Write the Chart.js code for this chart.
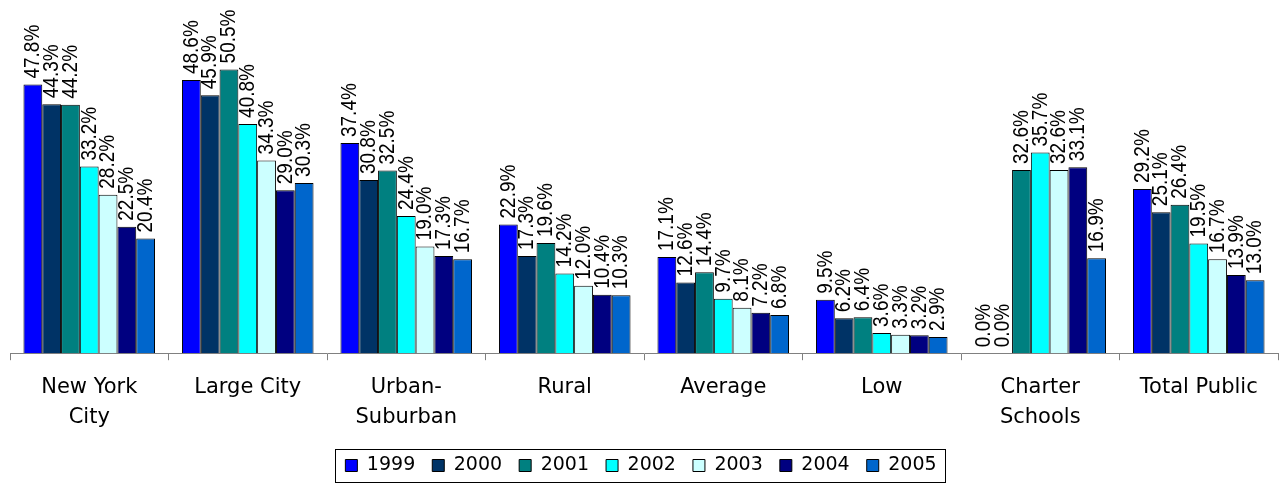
<!DOCTYPE html>
<html>
<head>
<meta charset="utf-8">
<script src="https://cdn.jsdelivr.net/npm/chart.js@4/dist/chart.umd.min.js"></script>
<style>
  html, body { margin: 0; padding: 0; background: #fff; }
  #wrap { width: 1283px; height: 483px; position: relative; }
</style>
</head>
<body>
<div id="wrap"><canvas id="c" width="1283" height="483"></canvas></div>
<script>
const categories = [["New York", "City"], "Large City", ["Urban-", "Suburban"], "Rural", "Average", "Low", ["Charter", "Schools"], "Total Public"];
const years = ["1999", "2000", "2001", "2002", "2003", "2004", "2005"];
const y1999 = [47.8, 48.6, 37.4, 22.9, 17.1, 9.5, 0.0, 29.2];
const y2000 = [44.3, 45.9, 30.8, 17.3, 12.6, 6.2, 0.0, 25.1];
const y2001 = [44.2, 50.5, 32.5, 19.6, 14.4, 6.4, 32.6, 26.4];
const y2002 = [33.2, 40.8, 24.4, 14.2, 9.7, 3.6, 35.7, 19.5];
const y2003 = [28.2, 34.3, 19.0, 12.0, 8.1, 3.3, 32.6, 16.7];
const y2004 = [22.5, 29.0, 17.3, 10.4, 7.2, 3.2, 33.1, 13.9];
const y2005 = [20.4, 30.3, 16.7, 10.3, 6.8, 2.9, 16.9, 13.0];
const seriesValues = [y1999, y2000, y2001, y2002, y2003, y2004, y2005];
const colors = ["#0000FF", "#003366", "#008080", "#00FFFF", "#CCFFFF", "#000080", "#0066CC"];

const valueLabels = {
  id: 'valueLabels',
  afterDatasetsDraw(chart) {
    const ctx = chart.ctx;
    ctx.save();
    ctx.fillStyle = '#000';
    ctx.font = '19px "Liberation Sans", Arial, sans-serif';
    ctx.textAlign = 'left';
    ctx.textBaseline = 'middle';
    chart.data.datasets.forEach((ds, i) => {
      const meta = chart.getDatasetMeta(i);
      meta.data.forEach((el, j) => {
        const v = ds.data[j];
        ctx.save();
        ctx.translate(el.x, el.y - 6);
        ctx.scale(1.2, 1);
        ctx.rotate(-Math.PI / 2);
        ctx.fillText(v.toFixed(1) + '%', 0, 0);
        ctx.restore();
      });
    });
    ctx.restore();
  }
};

const legendBox = {
  id: 'legendBox',
  afterDraw(chart) {
    const lg = chart.legend;
    if (!lg || !lg.legendHitBoxes || !lg.legendHitBoxes.length) return;
    const hb = lg.legendHitBoxes;
    const left = hb[0].left - 10;
    const right = hb[hb.length - 1].left + hb[hb.length - 1].width + 3;
    const top = hb[0].top - 7;
    const bottom = hb[0].top + hb[0].height + 7;
    const ctx = chart.ctx;
    ctx.save();
    ctx.strokeStyle = '#000';
    ctx.lineWidth = 1;
    ctx.strokeRect(Math.round(left) + 0.5, Math.round(top) + 0.5, Math.round(right - left), Math.round(bottom - top));
    ctx.restore();
  }
};

new Chart(document.getElementById('c'), {
  type: 'bar',
  data: {
    labels: categories,
    datasets: years.map((y, i) => ({
      label: y,
      data: seriesValues[i],
      backgroundColor: colors[i],
      borderColor: '#000',
      borderWidth: 1,
      barPercentage: 1.0,
      categoryPercentage: 0.83
    }))
  },
  options: {
    responsive: false,
    animation: false,
    devicePixelRatio: 1,
    layout: { padding: { left: 10, right: 5, top: 16, bottom: -2 } },
    scales: {
      y: { display: false, min: 0, max: 60 },
      x: {
        grid: { display: true, drawOnChartArea: false, drawTicks: true, tickLength: 7, color: '#808080', offset: true },
        border: { display: true, color: '#808080', width: 1 },
        ticks: { color: '#000', font: { family: '"DejaVu Sans", sans-serif', size: 21, lineHeight: 1.4 }, padding: 13, maxRotation: 0, autoSkip: false }
      }
    },
    plugins: {
      tooltip: { enabled: false },
      legend: {
        position: 'bottom',
        labels: {
          color: '#000',
          font: { family: '"DejaVu Sans", sans-serif', size: 19 },
          boxWidth: 12,
          boxHeight: 12,
          padding: 11,
          generateLabels: (chart) => Chart.defaults.plugins.legend.labels.generateLabels(chart).map(l => Object.assign(l, { text: l.text + ' ' }))
        }
      }
    }
  },
  plugins: [valueLabels, legendBox]
});
</script>
</body>
</html>
